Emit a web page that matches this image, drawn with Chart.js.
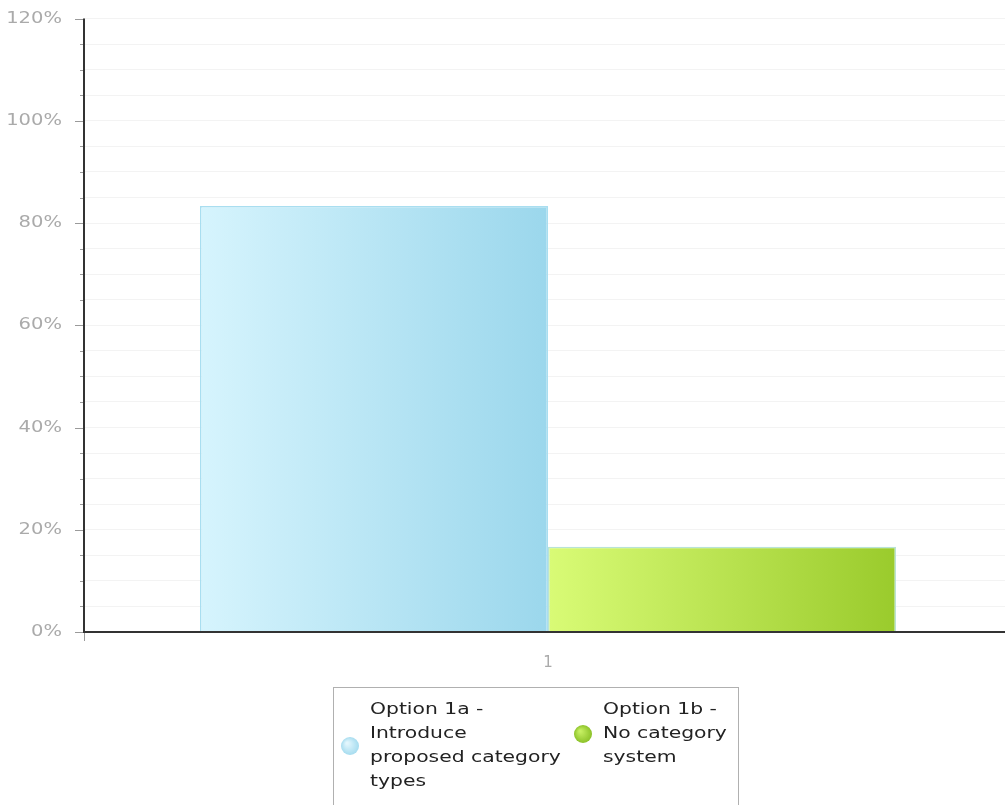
<!DOCTYPE html>
<html>
<head>
<meta charset="utf-8">
<style>
  html, body { margin: 0; padding: 0; background: #fff; overflow: hidden; }
  #wrap { position: relative; width: 1005px; height: 805px; overflow: hidden; }
  #c { position: absolute; left: 0; top: -13px; }
</style>
<script src="https://cdn.jsdelivr.net/npm/chart.js@4"></script>
</head>
<body>
<div id="wrap"><canvas id="c" width="1012" height="818"></canvas></div>
<script>
// Categories and series values (percent of responses)
const categories = ['1'];
const option1aValues = [83.33];
const option1bValues = [16.67];
const seriesNames = [
  'Option 1a - Introduce proposed category types',
  'Option 1b - No category system'
];
// Legend text, wrapped as in the legend box
const option1aLegendLines = ['Option 1a -', 'Introduce', 'proposed category', 'types'];
const option1bLegendLines = ['Option 1b -', 'No category', 'system'];
// Y axis: labelled every 20%, minor ticks every 5%
const yMin = 0, yMax = 120, yStep = 5, yLabelEvery = 20;

const FONT = '"DejaVu Sans", Verdana, sans-serif';
const CANVAS_SHIFT = 13;      // canvas sits this far above the page top
const TICK_STRETCH = 1.22;    // wide lettering on the axis labels
const LEGEND_STRETCH = 1.27;  // wide lettering in the legend

const seriesStyles = [
  { from: '#d6f4fd', to: '#9bd7ec', border: '#a9def0', dotFrom: '#e2f6fd', dotTo: '#a6dcef' },
  { from: '#d9fb76', to: '#9acb2c', border: '#b9e3d6', dotFrom: '#c6ef62', dotTo: '#8cc229' }
];

// Draw the axis labels horizontally stretched around their anchor
const wideTicks = {
  id: 'wideTicks',
  afterUpdate(chart) {
    const y = chart.scales.y;
    if (y && !y._wide) {
      const orig = y.drawLabels.bind(y);
      y.drawLabels = function (area) {
        const ctx = this.ctx;
        const ax = this.right - this.options.ticks.padding;
        ctx.save();
        ctx.translate(ax, 0);
        ctx.scale(TICK_STRETCH, 1);
        ctx.translate(-ax, 0);
        orig(area);
        ctx.restore();
      };
      y._wide = true;
    }
  }
};

// Horizontal gradient fill for each bar, built from its drawn extent
const barGradients = {
  id: 'barGradients',
  beforeDatasetsDraw(chart) {
    const ctx = chart.ctx;
    chart.data.datasets.forEach((ds, i) => {
      const meta = chart.getDatasetMeta(i);
      meta.data.forEach(bar => {
        const half = bar.width / 2;
        const g = ctx.createLinearGradient(bar.x - half, 0, bar.x + half, 0);
        g.addColorStop(0, seriesStyles[i].from);
        g.addColorStop(1, seriesStyles[i].to);
        bar.options.backgroundColor = g;
      });
    });
  }
};

// Axis lines and tick marks
const axesPlugin = {
  id: 'axesPlugin',
  afterDatasetsDraw(chart) {
    const { ctx, chartArea: a, scales: { y } } = chart;
    ctx.save();
    ctx.strokeStyle = '#9a9a9a';
    ctx.lineWidth = 1;
    for (let v = yMin; v <= yMax; v += yStep) {
      const py = Math.round(y.getPixelForValue(v)) + 0.5;
      const len = (v % yLabelEvery === 0) ? 9 : 4;
      ctx.beginPath();
      ctx.moveTo(a.left - len, py);
      ctx.lineTo(a.left, py);
      ctx.stroke();
    }
    // small tick below the origin
    ctx.beginPath();
    ctx.moveTo(a.left + 0.5, a.bottom);
    ctx.lineTo(a.left + 0.5, a.bottom + 9);
    ctx.stroke();
    // value axis line
    ctx.strokeStyle = '#333';
    ctx.lineWidth = 2;
    ctx.beginPath();
    ctx.moveTo(a.left, a.top);
    ctx.lineTo(a.left, a.bottom + 1);
    ctx.stroke();
    // category axis line
    ctx.beginPath();
    ctx.moveTo(a.left, a.bottom);
    ctx.lineTo(a.right, a.bottom);
    ctx.stroke();
    ctx.restore();
  }
};

// Boxed legend with wrapped labels
const boxLegend = {
  id: 'boxLegend',
  afterDraw(chart) {
    const ctx = chart.ctx;
    const top = 687.5 + CANVAS_SHIFT;
    ctx.save();
    ctx.strokeStyle = '#b0b0b0';
    ctx.lineWidth = 1;
    ctx.strokeRect(333.5, top, 405, 140);
    const items = [
      { lines: option1aLegendLines, dotX: 350, textX: 370 },
      { lines: option1bLegendLines, dotX: 583, textX: 603 }
    ];
    const lineH = 24, firstY = 710 + CANVAS_SHIFT;
    ctx.font = '16px ' + FONT;
    ctx.textBaseline = 'middle';
    ctx.textAlign = 'left';
    items.forEach((it, i) => {
      const st = seriesStyles[i];
      const midY = firstY + (it.lines.length - 1) * lineH / 2;
      const r = 9;
      const g = ctx.createRadialGradient(it.dotX - 3, midY - 3, 1, it.dotX, midY, r);
      g.addColorStop(0, st.dotFrom);
      g.addColorStop(1, st.dotTo);
      ctx.fillStyle = g;
      ctx.beginPath();
      ctx.arc(it.dotX, midY, r, 0, Math.PI * 2);
      ctx.fill();
      ctx.fillStyle = '#222';
      it.lines.forEach((t, k) => {
        ctx.save();
        ctx.translate(it.textX, firstY + k * lineH);
        ctx.scale(LEGEND_STRETCH, 1);
        ctx.fillText(t, 0, 0);
        ctx.restore();
      });
    });
    ctx.restore();
  }
};

new Chart(document.getElementById('c'), {
  type: 'bar',
  data: {
    labels: categories,
    datasets: [
      {
        label: seriesNames[0],
        data: option1aValues,
        backgroundColor: seriesStyles[0].to,
        borderColor: seriesStyles[0].border,
        borderWidth: 1.5
      },
      {
        label: seriesNames[1],
        data: option1bValues,
        backgroundColor: seriesStyles[1].to,
        borderColor: seriesStyles[1].border,
        borderWidth: 1.5
      }
    ]
  },
  options: {
    responsive: false,
    animation: false,
    devicePixelRatio: 1,
    layout: { padding: 0 },
    datasets: { bar: { categoryPercentage: 0.75, barPercentage: 1 } },
    plugins: {
      legend: { display: false },
      tooltip: { enabled: false }
    },
    scales: {
      x: {
        grid: { display: false, drawTicks: false },
        border: { display: false },
        ticks: { color: '#aaa', font: { family: FONT, size: 15 }, padding: 22 },
        afterFit(s) { s.height = 173; }
      },
      y: {
        min: yMin,
        max: yMax,
        border: { display: false },
        grid: { color: '#f3f3f3', drawTicks: false },
        ticks: {
          stepSize: yStep,
          autoSkip: false,
          color: '#aaa',
          font: { family: FONT, size: 16 },
          padding: 22,
          callback: v => (v % yLabelEvery === 0 ? v + '%' : '')
        },
        afterFit(s) { s.width = 84; }
      }
    }
  },
  plugins: [wideTicks, barGradients, axesPlugin, boxLegend]
});
</script>
</body>
</html>
